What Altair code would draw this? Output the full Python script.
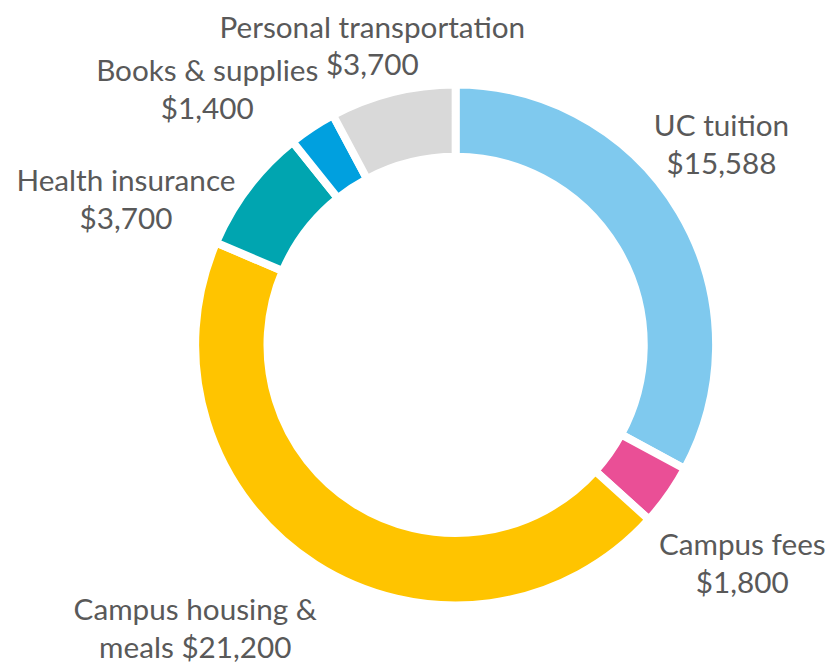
import math
import altair as alt
import pandas as pd

categories = ["UC tuition", "Campus fees", "Campus housing & meals",
              "Health insurance", "Books & supplies", "Personal transportation"]
amounts = [15588, 1800, 21200, 3700, 1400, 3700]
labels = ["UC tuition\n$15,588", "Campus fees\n$1,800", "Campus housing &\nmeals $21,200",
          "Health insurance\n$3,700", "Books & supplies\n$1,400", "Personal transportation\n$3,700"]
colors = ["#7FC9EE", "#EA4F96", "#FFC400", "#00A5B0", "#00A0DF", "#D9D9D9"]

df = pd.DataFrame({
    "cat": categories,
    "amount": amounts,
    "label": labels,
    "order": list(range(len(categories))),
})
total = sum(amounts)

CX, CY = 452, 337
TEXT_R = 330
label_offsets = {
    "UC tuition": (-15, -51),
    "Campus fees": (20, 13),
    "Campus housing & meals": (-85, -9),
    "Health insurance": (-70, 35),
    "Books & supplies": (-69, 0),
    "Personal transportation": (-4, 1),
}

theta_scale = alt.Scale(domain=[0, total], range=[0, 2 * math.pi])

base = alt.Chart(df).transform_window(
    cum="sum(amount)", sort=[alt.SortField("order")], frame=[None, 0]
).transform_calculate(
    start="datum.cum - datum.amount",
    mid="datum.cum - datum.amount / 2",
)

arcs = base.mark_arc(
    innerRadius=190, outerRadius=263, stroke="white", strokeWidth=8
).encode(
    theta=alt.Theta("start:Q", scale=theta_scale),
    theta2="cum:Q",
    color=alt.Color("cat:N", scale=alt.Scale(domain=categories, range=colors), legend=None),
    x=alt.value(CX),
    y=alt.value(CY),
)

layers = [arcs]
for cat in categories:
    dx, dy = label_offsets[cat]
    layers.append(
        base.transform_filter(alt.datum.cat == cat).mark_text(
            radius=TEXT_R, dx=dx, dy=dy, font="Lato", fontSize=30,
            lineHeight=38, lineBreak="\n", align="center", baseline="middle",
            color="#595959",
        ).encode(
            theta=alt.Theta("mid:Q", scale=theta_scale),
            text="label:N",
            x=alt.value(CX),
            y=alt.value(CY),
        )
    )

chart = alt.layer(*layers).properties(
    width=826, height=659, autosize=alt.AutoSizeParams(type="none"), padding=0
).configure_view(stroke=None)

chart.save("out.html", embed_options={"renderer": "svg", "actions": False})
